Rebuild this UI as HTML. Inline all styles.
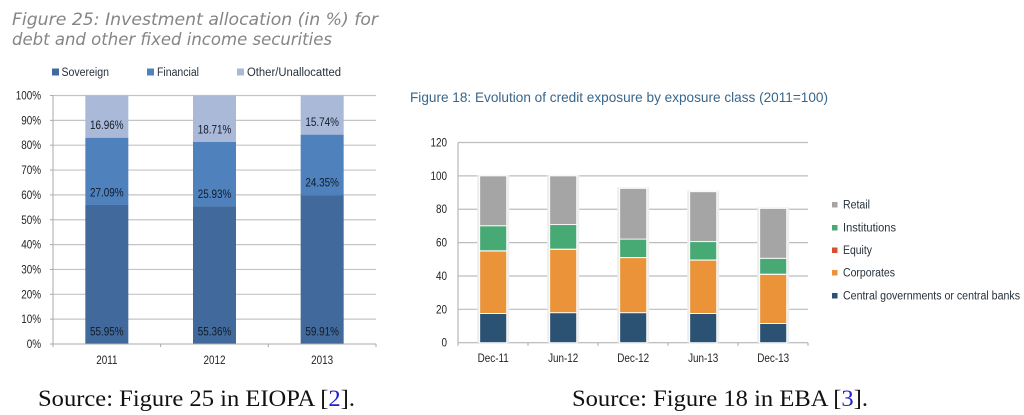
<!DOCTYPE html>
<html lang="en">
<head>
<meta charset="utf-8">
<title>Investment allocation and credit exposure charts</title>
<style>
html,body{margin:0;padding:0;background:#fff;width:1024px;height:415px;overflow:hidden}
svg{display:block;position:absolute;left:0;top:0}
#charts{filter:blur(0.35px)}
text{font-family:"Liberation Sans",sans-serif}
.fig-title-left{font-family:"DejaVu Sans",sans-serif;font-style:italic;font-size:16.5px;fill:#858585}
.fig-title-right{font-size:14px;fill:#38668b}
.tick{font-size:11.5px;fill:#222}
.legend{font-size:11.5px;fill:#26313c}
.label{font-size:11.5px;fill:#111c2a}
.caption{font-family:"Liberation Serif",serif;font-size:23px;fill:#111}
</style>
</head>
<body>
<svg id="charts" width="1024" height="415" viewBox="0 0 1024 415" xmlns="http://www.w3.org/2000/svg">
  <text class="fig-title-left" x="12" y="25" textLength="366" lengthAdjust="spacingAndGlyphs">Figure 25: Investment allocation (in %) for</text>
  <text class="fig-title-left" x="12" y="45" textLength="320" lengthAdjust="spacingAndGlyphs">debt and other fixed income securities</text>
  <g>
    <rect x="52" y="68.5" width="7" height="7" fill="#41699b"/>
    <text class="legend" x="61.5" y="76" textLength="47.5" lengthAdjust="spacingAndGlyphs">Sovereign</text>
    <rect x="147" y="68.5" width="7" height="7" fill="#4f81bd"/>
    <text class="legend" x="157" y="76" textLength="42" lengthAdjust="spacingAndGlyphs">Financial</text>
    <rect x="237" y="68.5" width="7" height="7" fill="#aab9d7"/>
    <text class="legend" x="247" y="76" textLength="94" lengthAdjust="spacingAndGlyphs">Other/Unallocatted</text>
  </g>
  <g id="left-chart"></g>
  <text class="fig-title-right" x="410" y="102" textLength="418" lengthAdjust="spacingAndGlyphs">Figure 18: Evolution of credit exposure by exposure class (2011=100)</text>
  <g id="right-chart"></g>
  <g>
    <rect x="832" y="202" width="5.5" height="5.5" fill="#a5a5a5"/>
    <text class="legend" x="843" y="208.5" textLength="27" lengthAdjust="spacingAndGlyphs">Retail</text>
    <rect x="832" y="225" width="5.5" height="5.5" fill="#47a973"/>
    <text class="legend" x="843" y="231.5" textLength="53" lengthAdjust="spacingAndGlyphs">Institutions</text>
    <rect x="832" y="247.5" width="5.5" height="5.5" fill="#d5502c"/>
    <text class="legend" x="843" y="254" textLength="29" lengthAdjust="spacingAndGlyphs">Equity</text>
    <rect x="832" y="270" width="5.5" height="5.5" fill="#ea9339"/>
    <text class="legend" x="843" y="276.5" textLength="52" lengthAdjust="spacingAndGlyphs">Corporates</text>
    <rect x="832" y="293" width="5.5" height="5.5" fill="#2b5273"/>
    <text class="legend" x="843" y="299.5" textLength="177" lengthAdjust="spacingAndGlyphs">Central governments or central banks</text>
  </g>
  <text class="caption" x="38" y="406" textLength="317" lengthAdjust="spacingAndGlyphs">Source: Figure 25 in EIOPA [<tspan fill="#2222cc">2</tspan>].</text>
  <text class="caption" x="572" y="406" textLength="296" lengthAdjust="spacingAndGlyphs">Source: Figure 18 in EBA [<tspan fill="#2222cc">3</tspan>].</text>
</svg>
<script>
// Left chart data
const leftCategories = ['2011', '2012', '2013'];
const leftSovereign = [55.95, 55.36, 59.91];
const leftFinancial = [27.09, 25.93, 24.35];
const leftOther = [16.96, 18.71, 15.74];
const leftTicks = [0, 10, 20, 30, 40, 50, 60, 70, 80, 90, 100];

// Right chart data
const rightCategories = ['Dec-11', 'Jun-12', 'Dec-12', 'Jun-13', 'Dec-13'];
const rightCentral = [17.5, 18, 18, 17.5, 11.5];
const rightCorporates = [37.5, 38, 33, 32, 29.5];
const rightEquity = [0.1, 0.1, 0.1, 0.1, 0.1];
const rightInstitutions = [15, 14.7, 11, 11, 9.5];
const rightRetail = [29.9, 29.2, 30.4, 29.9, 29.9];
const rightTicks = [0, 20, 40, 60, 80, 100, 120];

const NS = 'http://www.w3.org/2000/svg';

function make(parent, tag) {
  const el = document.createElementNS(NS, tag);
  parent.appendChild(el);
  return el;
}
function setBox(el, x, y, w, h, fill) {
  el.setAttribute('x', x);
  el.setAttribute('y', y);
  el.setAttribute('width', w);
  el.setAttribute('height', h);
  el.setAttribute('fill', fill);
}
function setLine(el, x1, y1, x2, y2, color, width) {
  el.setAttribute('x1', x1);
  el.setAttribute('y1', y1);
  el.setAttribute('x2', x2);
  el.setAttribute('y2', y2);
  el.setAttribute('stroke', color);
  el.setAttribute('stroke-width', width);
}
function setText(el, cls, x, y, anchor, content) {
  el.setAttribute('class', cls);
  el.setAttribute('x', x);
  el.setAttribute('y', y);
  el.setAttribute('text-anchor', anchor);
  el.textContent = content;
  // Narrow the glyphs to approximate the condensed look of the original face
  el.setAttribute('textLength', (el.getComputedTextLength() * 0.86).toFixed(2));
  el.setAttribute('lengthAdjust', 'spacingAndGlyphs');
}

/* ---------- Left chart ---------- */
(function () {
  const g = document.getElementById('left-chart');
  const x0 = 53, x1 = 376, yTop = 95.5, yBase = 344, barW = 43;
  const yAxis = v => yBase - (v / 100) * (yBase - yTop);
  const band = (x1 - x0) / leftCategories.length;
  const xCenter = i => x0 + band * (i + 0.5);

  leftTicks.forEach(t => {
    if (t > 0) {
      const grid = make(g, 'line');
      setLine(grid, x0, yAxis(t), x1, yAxis(t), '#c4c4c4', 1.2);
      
      
    }
    const lab = make(g, 'text');
    setText(lab, 'tick', 41, yAxis(t) + 4, 'end', t + '%');
    
    
    const mark = make(g, 'line');
    setLine(mark, x0 - 3, yAxis(t), x0, yAxis(t), '#aaa', 1);
    
    
  });

  const axisY = make(g, 'line');
  setLine(axisY, x0, yTop, x0, yBase, '#aaa', 1);
  
  

  const seriesList = [
    { key: 'sovereign', vals: leftSovereign, color: '#41699b' },
    { key: 'financial', vals: leftFinancial, color: '#4f81bd' },
    { key: 'other', vals: leftOther, color: '#aab9d7' }
  ];

  leftCategories.forEach((cat, i) => {
    let acc = 0;
    seriesList.forEach(s => {
      const v = s.vals[i];
      const yT = yAxis(acc + v), yB = yAxis(acc);
      const bar = make(g, 'rect');
      setBox(bar, xCenter(i) - barW / 2, yT, barW, yB - yT, s.color);
      
      
      acc += v;
    });
  });

  const axisX = make(g, 'line');
  setLine(axisX, x0 - 3, yBase, x1, yBase, '#aaa', 1);
  
  

  leftCategories.forEach((cat, i) => {
    let acc = 0;
    seriesList.forEach(s => {
      const v = s.vals[i];
      const lab = make(g, 'text');
      setText(lab, 'label', xCenter(i), yAxis(acc) - 8.5, 'middle', v.toFixed(2) + '%');
      
      
      acc += v;
    });
    const xl = make(g, 'text');
    setText(xl, 'tick', xCenter(i), 364, 'middle', cat);
    
    
  });

  for (let i = 0; i <= leftCategories.length; i++) {
    const tk = make(g, 'line');
    setLine(tk, x0 + band * i, yBase, x0 + band * i, yBase + 3, '#aaa', 1);
    
    
  }
})();

/* ---------- Right chart ---------- */
(function () {
  const g = document.getElementById('right-chart');
  const x0 = 458, x1 = 808, yBase = 342.7, yTop = 142.5, barW = 27;
  const yAxis = v => yBase - (v / 120) * (yBase - yTop);
  const band = (x1 - x0) / rightCategories.length;
  const xCenter = i => x0 + band * (i + 0.5) + 0.2;

  rightTicks.forEach(t => {
    if (t > 0) {
      const grid = make(g, 'line');
      setLine(grid, x0, yAxis(t), x1, yAxis(t), '#bdbdbd', 1.2);
      
      
    }
    const lab = make(g, 'text');
    setText(lab, 'tick', 447, yAxis(t) + 4, 'end', String(t));
    
    
  });

  const axisY = make(g, 'line');
  setLine(axisY, x0, yTop, x0, yBase + 3, '#aaa', 1);
  
  

  const axisX = make(g, 'line');
  setLine(axisX, x0, yBase, x1, yBase, '#aaa', 1);
  
  

  for (let i = 0; i <= rightCategories.length; i++) {
    const tk = make(g, 'line');
    setLine(tk, x0 + band * i, yBase, x0 + band * i, yBase + 3, '#aaa', 1);
    
    
  }

  const seriesList = [
    { key: 'central', vals: rightCentral, color: '#2b5273' },
    { key: 'corporates', vals: rightCorporates, color: '#ea9339' },
    { key: 'equity', vals: rightEquity, color: '#d5502c' },
    { key: 'institutions', vals: rightInstitutions, color: '#47a973' },
    { key: 'retail', vals: rightRetail, color: '#a5a5a5' }
  ];

  rightCategories.forEach((cat, i) => {
    const total = seriesList.reduce((sum, s) => sum + s.vals[i], 0);
    const halo = make(g, 'rect');
    setBox(halo, xCenter(i) - barW / 2 - 2.5, yAxis(total) - 1, barW + 5, yAxis(0) - yAxis(total) + 1, '#ededed');
    
    
    let acc = 0;
    seriesList.forEach(s => {
      const v = s.vals[i];
      const yT = yAxis(acc + v), yB = yAxis(acc);
      const bar = make(g, 'rect');
      setBox(bar, xCenter(i) - barW / 2, yT, barW, yB - yT, s.color);
      bar.setAttribute('stroke', '#fff');
      bar.setAttribute('stroke-width', '0.9');
      
      
      acc += v;
    });
    const xl = make(g, 'text');
    setText(xl, 'tick', xCenter(i), 362, 'middle', cat);
    
    
  });
})();
</script>
</body>
</html>
